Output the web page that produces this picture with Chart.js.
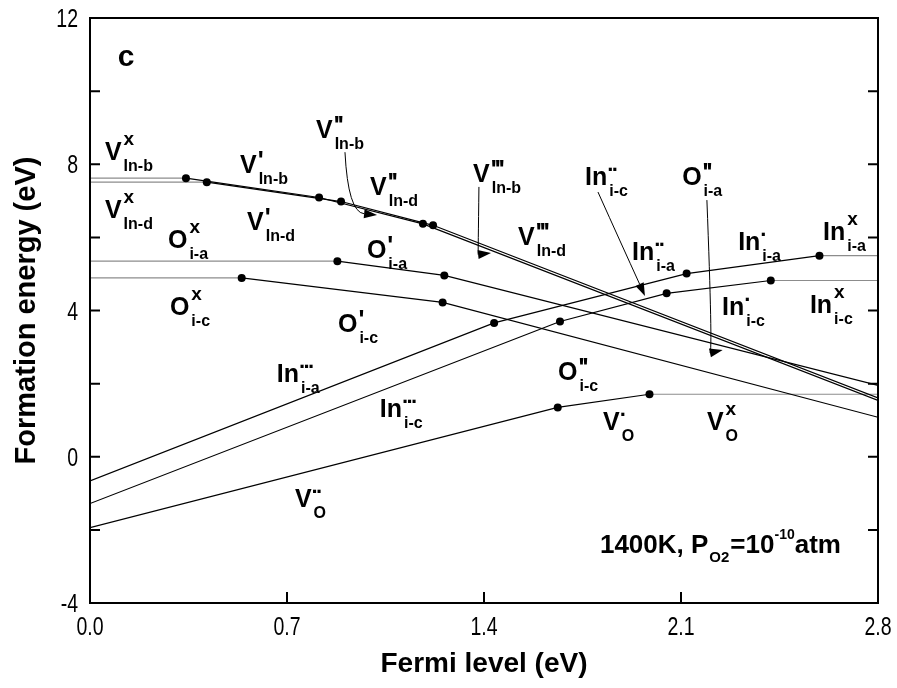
<!DOCTYPE html>
<html>
<head>
<meta charset="utf-8">
<script src="https://cdn.jsdelivr.net/npm/chart.js@4.4.0/dist/chart.umd.min.js"></script>
<style>
  html, body { margin: 0; background: #fff; }
  #wrap { width: 897px; height: 688px; }
</style>
</head>
<body>
<div id="wrap"><canvas id="chart"></canvas></div>
<script>
// Axis ticks
const XTICKS = [0, 0.7, 1.4, 2.1, 2.8];
const YTICKS = [-4, -2, 0, 2, 4, 6, 8, 10, 12];
const YLABELED = [-4, 0, 4, 8, 12];

// Formation energy vs Fermi level, breakpoints
const VIN_B_X = [0, 0.341, 0.814, 1.183, 2.8];
const VIN_B_E = [7.62, 7.62, 7.09, 6.37, 1.54];
const VIN_D_X = [0, 0.415, 0.892, 1.219, 2.8];
const VIN_D_E = [7.51, 7.51, 6.98, 6.33, 1.61];
const OIA_X = [0, 0.879, 1.259, 2.8];
const OIA_E = [5.35, 5.35, 4.96, 1.95];
const OIC_X = [0, 0.539, 1.253, 2.8];
const OIC_E = [4.89, 4.89, 4.22, 1.08];
const INIA_X = [0, 1.436, 2.12, 2.592, 2.8];
const INIA_E = [-0.66, 3.66, 5.01, 5.5, 5.5];
const INIC_X = [0, 1.67, 2.049, 2.419, 2.8];
const INIC_E = [-1.28, 3.7, 4.47, 4.82, 4.82];
const VO_X = [0, 1.662, 1.988, 2.8];
const VO_E = [-1.94, 1.35, 1.71, 1.71];

// Defect labels: [x, y, main, sup, sub]  (x/y = left/baseline in data units)
const LABELS = [
  [0.053, 8.11, "V", "x", "In-b"],
  [0.053, 6.54, "V", "x", "In-d"],
  [0.533, 7.76, "V", "'", "In-b"],
  [0.558, 6.2, "V", "'", "In-d"],
  [0.277, 5.71, "O", "x", "i-a"],
  [0.284, 3.88, "O", "x", "i-c"],
  [0.803, 8.72, "V", "''", "In-b"],
  [0.995, 7.16, "V", "''", "In-d"],
  [1.361, 7.51, "V", "'''", "In-b"],
  [1.521, 5.79, "V", "'''", "In-d"],
  [0.984, 5.43, "O", "'", "i-a"],
  [0.881, 3.41, "O", "'", "i-c"],
  [0.664, 2.04, "In", "···", "i-a"],
  [1.03, 1.09, "In", "···", "i-c"],
  [0.728, -1.38, "V", "··", "O"],
  [1.759, 7.43, "In", "··", "i-c"],
  [2.104, 7.43, "O", "''", "i-a"],
  [1.926, 5.38, "In", "··", "i-a"],
  [2.303, 5.65, "In", "·", "i-a"],
  [2.605, 5.93, "In", "x", "i-a"],
  [2.246, 3.88, "In", "·", "i-c"],
  [2.558, 3.93, "In", "x", "i-c"],
  [1.663, 2.1, "O", "''", "i-c"],
  [1.823, 0.73, "V", "·", "O"],
  [2.192, 0.73, "V", "x", "O"],
];

// Pointer arrows: [x0, y0, cx, cy, x1, y1] (quadratic curve, head at end)
const ARROWS = [
  [0.906, 8.33, 0.917, 6.69, 1.02, 6.61],
  [1.382, 7.38, 1.379, 5.53, 1.425, 5.57],
  [1.805, 7.24, 1.888, 5.82, 1.972, 4.4],
  [2.192, 7.02, 2.213, 2.86, 2.248, 2.92],
];

const FONT = '"Liberation Sans", Arial, sans-serif';

function series(xs, es) {
  return xs.map((x, i) => ({ x: x, y: es[i] }));
}

function lineSet(xs, es) {
  const n = xs.length;
  return {
    data: series(xs, es),
    showLine: true,
    borderColor: "#000",
    borderWidth: 1.2,
    backgroundColor: "#000",
    pointBackgroundColor: "#000",
    pointBorderWidth: 0,
    pointRadius: (c) => (c.dataIndex === 0 || c.dataIndex === n - 1 ? 0 : 4),
    segment: {
      borderColor: (c) => (c.p0.parsed.y === c.p1.parsed.y ? "#8c8c8c" : "#000"),
    },
  };
}

function drawLabel(ctx, px, py, main, sup, sub) {
  ctx.font = "bold 25px " + FONT;
  ctx.fillText(main, px, py);
  const w = ctx.measureText(main).width;
  if (sup === "x") {
    ctx.font = "bold 19px " + FONT;
    ctx.fillText("x", px + w + 2, py - 15);
  } else if (sup[0] === "'") {
    ctx.font = "bold 25px " + FONT;
    for (let i = 0; i < sup.length; i++) ctx.fillText("'", px + w + 1 + i * 4, py - 4);
  } else {
    ctx.font = "bold 22px " + FONT;
    for (let i = 0; i < sup.length; i++) ctx.fillText("·", px + w + i * 4.5, py - 8);
  }
  ctx.font = "bold 16px " + FONT;
  ctx.fillText(sub, px + w + 2, py + 11);
}

// condensed text, like the narrow face of the original
function narrowText(ctx, text, px, py, align) {
  ctx.save();
  ctx.translate(px, py);
  ctx.scale(0.78, 1);
  ctx.textAlign = align;
  ctx.fillText(text, 0, 0);
  ctx.restore();
}

const decor = {
  id: "decor",
  afterDatasetsDraw(chart) {
    const { ctx, chartArea: a } = chart;
    const xs = chart.scales.x;
    const ys = chart.scales.y;
    ctx.save();
    ctx.strokeStyle = "#000";
    ctx.fillStyle = "#000";

    // frame and inward ticks
    ctx.lineWidth = 2;
    ctx.strokeRect(a.left, a.top, a.right - a.left, a.bottom - a.top);
    ctx.beginPath();
    XTICKS.forEach((v) => {
      const px = xs.getPixelForValue(v);
      ctx.moveTo(px, a.bottom);
      ctx.lineTo(px, a.bottom - 11);
    });
    YTICKS.forEach((v) => {
      const py = ys.getPixelForValue(v);
      ctx.moveTo(a.left, py);
      ctx.lineTo(a.left + 10, py);
      ctx.moveTo(a.right, py);
      ctx.lineTo(a.right - 10, py);
    });
    ctx.stroke();

    // tick labels
    ctx.textBaseline = "alphabetic";
    ctx.font = "25px " + FONT;
    XTICKS.forEach((v) => {
      narrowText(ctx, v.toFixed(1), xs.getPixelForValue(v), a.bottom + 32, "center");
    });
    YLABELED.forEach((v) => {
      narrowText(ctx, String(v), a.left - 12, ys.getPixelForValue(v) + 9, "right");
    });

    // arrows
    ctx.lineWidth = 1;
    ARROWS.forEach(([x0, y0, cx, cy, x1, y1]) => {
      const p0 = [xs.getPixelForValue(x0), ys.getPixelForValue(y0)];
      const pc = [xs.getPixelForValue(cx), ys.getPixelForValue(cy)];
      const p1 = [xs.getPixelForValue(x1), ys.getPixelForValue(y1)];
      const ang = Math.atan2(p1[1] - pc[1], p1[0] - pc[0]);
      const len = 13, hw = 4.5;
      const bx = p1[0] - len * Math.cos(ang);
      const by = p1[1] - len * Math.sin(ang);
      ctx.beginPath();
      ctx.moveTo(p0[0], p0[1]);
      ctx.quadraticCurveTo(pc[0], pc[1], bx, by);
      ctx.stroke();
      ctx.beginPath();
      ctx.moveTo(p1[0], p1[1]);
      ctx.lineTo(bx + hw * Math.sin(ang), by - hw * Math.cos(ang));
      ctx.lineTo(bx - hw * Math.sin(ang), by + hw * Math.cos(ang));
      ctx.closePath();
      ctx.fill();
    });

    // labels
    ctx.textAlign = "left";
    LABELS.forEach(([x, y, main, sup, sub]) => {
      drawLabel(ctx, xs.getPixelForValue(x), ys.getPixelForValue(y), main, sup, sub);
    });

    // panel letter
    ctx.font = "bold 30px " + FONT;
    ctx.fillText("c", xs.getPixelForValue(0.099), ys.getPixelForValue(10.69));

    // conditions note
    let px = xs.getPixelForValue(1.812);
    const py = ys.getPixelForValue(-2.63);
    ctx.font = "bold 26px " + FONT;
    ctx.fillText("1400K, P", px, py);
    px += ctx.measureText("1400K, P").width + 1;
    ctx.font = "bold 15px " + FONT;
    ctx.fillText("O2", px, py + 9);
    px += ctx.measureText("O2").width + 1;
    ctx.font = "bold 26px " + FONT;
    ctx.fillText("=10", px, py);
    px += ctx.measureText("=10").width;
    ctx.font = "bold 14px " + FONT;
    ctx.fillText("-10", px, py - 14);
    px += ctx.measureText("-10").width;
    ctx.font = "bold 26px " + FONT;
    ctx.fillText("atm", px, py);

    // axis titles
    ctx.textAlign = "center";
    ctx.textBaseline = "middle";
    ctx.font = "bold 28px " + FONT;
    ctx.fillText("Fermi level (eV)", (a.left + a.right) / 2, 664);
    ctx.translate(27, (a.top + a.bottom) / 2);
    ctx.rotate(-Math.PI / 2);
    ctx.font = "bold 29px " + FONT;
    ctx.fillText("Formation energy (eV)", 0, 0);
    ctx.restore();
  },
};

new Chart(document.getElementById("chart"), {
  type: "scatter",
  data: {
    datasets: [
      lineSet(VIN_B_X, VIN_B_E),
      lineSet(VIN_D_X, VIN_D_E),
      lineSet(OIA_X, OIA_E),
      lineSet(OIC_X, OIC_E),
      lineSet(INIA_X, INIA_E),
      lineSet(INIC_X, INIC_E),
      lineSet(VO_X, VO_E),
    ],
  },
  options: {
    responsive: true,
    maintainAspectRatio: false,
    animation: false,
    events: [],
    layout: { padding: { top: 18, right: 19, left: 0, bottom: 0 } },
    plugins: { legend: { display: false }, tooltip: { enabled: false } },
    scales: {
      x: {
        type: "linear",
        min: 0,
        max: 2.8,
        grid: { display: false },
        border: { display: false },
        ticks: { display: false },
        afterFit: (s) => { s.height = 85; },
      },
      y: {
        type: "linear",
        min: -4,
        max: 12,
        grid: { display: false },
        border: { display: false },
        ticks: { display: false },
        afterFit: (s) => { s.width = 90; },
      },
    },
  },
  plugins: [decor],
});
</script>
</body>
</html>
